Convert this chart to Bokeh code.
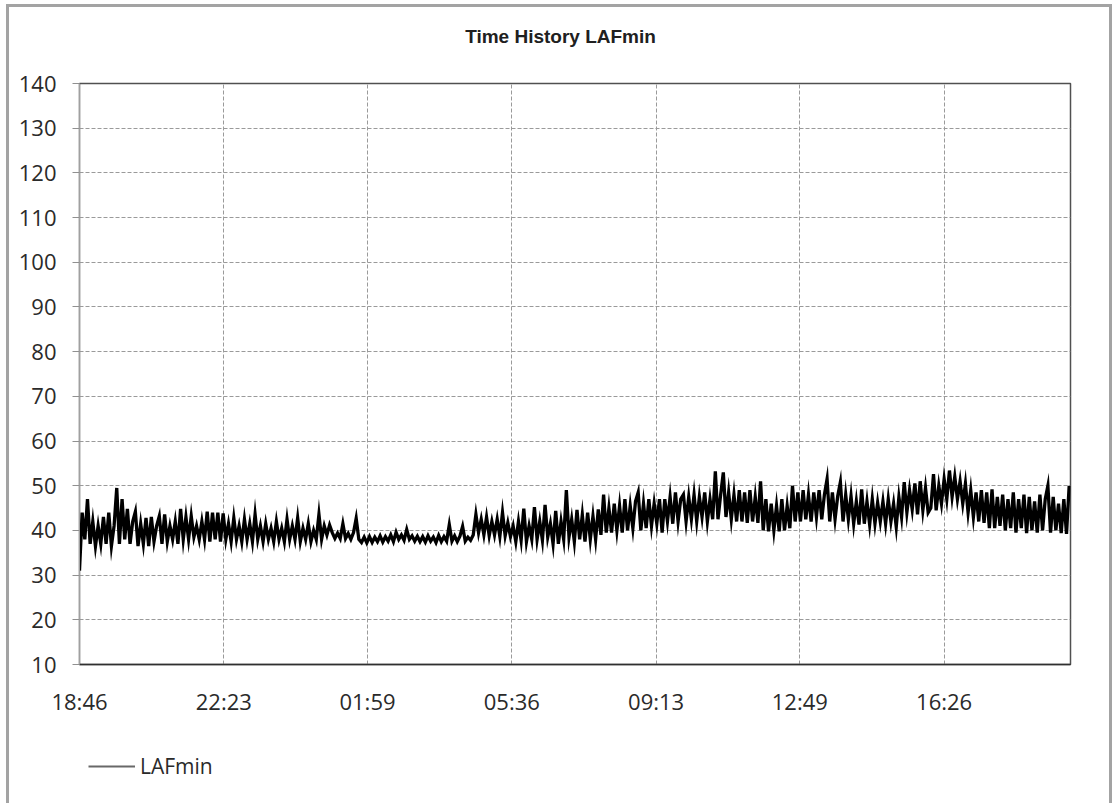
import numpy as np
from bokeh.plotting import figure
from bokeh.layouts import column
from bokeh.models import Range1d, FixedTicker, Label, Legend, LegendItem
from bokeh.embed import file_html
from bokeh.resources import INLINE

# ---------------- data ----------------
title_text = "Time History LAFmin"
series_name = "LAFmin"
sample_minutes = 4          # sampling interval of the values below
x_end_minutes = 1490        # axis span (minutes after 18:46)
tick_minutes = [0, 217, 433, 650, 867, 1083, 1300]
tick_labels = ["18:46", "22:23", "01:59", "05:36", "09:13", "12:49", "16:26"]
y_ticks = [10, 20, 30, 40, 50, 60, 70, 80, 90, 100, 110, 120, 130, 140]

laf_min = [
    31, 44, 38, 47, 37, 42, 36.5, 41, 37, 43,
    37, 44, 36.5, 41, 49.5, 37, 47, 38, 44.8, 37,
    42, 44.2, 36.5, 41.5, 37, 42.8, 36.5, 43, 37.5, 41,
    43.2, 37, 43.6, 37.5, 41, 38, 42, 37, 44.8, 38,
    43, 38, 43.2, 38.5, 41, 38, 42, 38, 44.2, 37.5,
    44, 38, 44, 37.5, 43.8, 38, 41.5, 37.5, 42.8, 38,
    41, 37.5, 42.5, 38, 41.5, 37.5, 43.6, 38, 41, 37.5,
    41.5, 38, 40.5, 37.5, 42, 38, 40.5, 37.5, 42.5, 38,
    41, 38, 42.8, 37.5, 40.5, 38, 41.5, 37.5, 40, 38,
    43.6, 38, 41, 39, 41.2, 39.5, 38.2, 39.4, 38.2, 41.5,
    38.2, 39.3, 38, 39.5, 42.7, 38, 37.3, 38.5, 37.2, 38.6,
    37.3, 38.5, 37.5, 38.8, 37.4, 38.6, 37.6, 39, 37.5, 39.6,
    38, 39, 37.8, 40.2, 38, 38.8, 37.6, 38.7, 37.5, 38.6,
    37.4, 38.8, 37.6, 38.5, 37.3, 38.9, 37.5, 38.6, 37.6, 41.3,
    37.6, 38.8, 37.5, 38.7, 40.9, 37.6, 38.5, 37.8, 39, 43.6,
    39.5, 42.5, 39, 43, 38.8, 42, 39, 42.5, 38.6, 44,
    38.8, 41.7, 38.6, 41, 37.5, 42, 37.8, 44.9, 37.5, 41,
    38, 45.2, 38, 42, 37.8, 45.7, 38.5, 41.5, 37, 44.4,
    37, 42, 38, 49, 38.5, 42.5, 37.5, 44.6, 38, 43.5,
    37.5, 44, 38, 43.2, 38, 44.7, 39, 48, 39.5, 45,
    39.5, 46, 40, 45.5, 39.5, 47, 40, 45.5, 40.5, 46.5,
    48.5, 40, 46, 40.5, 47, 41, 46, 41.5, 47, 39.5,
    47, 42, 47.5, 41.5, 48.5, 42, 47, 48, 42, 47.5,
    42.5, 48, 42, 47.5, 43, 48.5, 42, 47, 42.5, 53.2,
    42.5, 48, 53, 43, 48.5, 42.5, 48, 42, 49, 42,
    48.5, 41.7, 49, 42, 47.5, 41.7, 51, 40, 47, 39.8,
    46, 40, 45.5, 39.8, 47, 40, 45.5, 40.5, 50, 42,
    48.5, 42, 49, 42.5, 48, 42, 48.5, 43, 49, 42.5,
    48, 51.5, 42, 48.5, 42.5, 47.7, 50.8, 42, 48, 42.5,
    47.7, 41.5, 46.5, 41.3, 49.2, 41.5, 46.5, 41.3, 47, 41.5,
    46.2, 42, 46.5, 41.5, 47, 42, 46, 40.8, 47.5, 43,
    50.8, 44, 49, 44.7, 50.5, 43.6, 51, 44.5, 49.5, 44,
    45, 52.6, 44.5, 50, 46, 51.5, 47, 53.4, 47.5, 52,
    47, 51, 46, 50.5, 44, 49, 43, 48.5, 42, 49,
    41.7, 48.5, 40.5, 49.2, 40.5, 47.5, 41, 48, 40, 47,
    40.5, 48.5, 39.5, 47, 40.5, 48, 39.4, 47.5, 40, 46.5,
    39.5, 48, 40, 47, 50, 39.5, 47.5, 40, 46, 39.4,
    47, 39.2, 50,
]
minutes = [i * sample_minutes for i in range(len(laf_min))]

TICK_FONT = "Open Sans"
W = 1100
BORDER_L, BORDER_R = 70, 39
FRAME_W = W - BORDER_L - BORDER_R      # plot frames in the column are aligned

def strip(h, y0=0):
    f = figure(
        width=W, height=h,
        x_range=Range1d(0, FRAME_W), y_range=Range1d(y0, y0 + h),
        x_axis_location=None, y_axis_location=None,
        output_backend="svg", toolbar_location=None,
        min_border=0, min_border_left=BORDER_L, min_border_right=BORDER_R,
        min_border_top=0, min_border_bottom=0,
        background_fill_color="white", border_fill_color="white",
    )
    f.grid.visible = False
    f.outline_line_color = None
    return f

# ---------------- title strip ----------------
TITLE_H = 50
tf = strip(TITLE_H)
tf.add_layout(Label(
    x=481, y=TITLE_H - 29, text=title_text,
    text_font="Liberation Sans", text_font_style="bold",
    text_font_size="19px", text_color="#202020",
    text_align="center", text_baseline="middle",
))

# ---------------- main figure ----------------
p = figure(
    width=W, height=680,
    x_range=Range1d(0, x_end_minutes), y_range=Range1d(10, 140),
    output_backend="svg", toolbar_location=None,
    min_border_left=BORDER_L, min_border_right=BORDER_R,
    min_border_top=26, min_border_bottom=73,
    background_fill_color="white", border_fill_color="white",
)
p.outline_line_color = "#505050"
p.outline_line_width = 1.5

xa = p.xaxis[0]
xa.ticker = FixedTicker(ticks=tick_minutes)
xa.major_label_overrides = {t: l for t, l in zip(tick_minutes, tick_labels)}
xa.major_tick_out = 0
xa.major_tick_in = 0
xa.minor_tick_out = 0
xa.minor_tick_in = 0
xa.axis_line_color = "#303030"
xa.axis_line_width = 1.5
xa.major_label_standoff = 21
xa.major_label_text_font = TICK_FONT
xa.major_label_text_font_size = "22px"
xa.major_label_text_color = "#2a2a2a"

ya = p.yaxis[0]
ya.ticker = FixedTicker(ticks=y_ticks)
ya.major_tick_out = 7
ya.major_tick_in = 0
ya.minor_tick_out = 0
ya.minor_tick_in = 0
ya.major_tick_line_color = "#909090"
ya.axis_line_color = "#a0a0a0"
ya.major_label_standoff = 16
ya.major_label_text_font = TICK_FONT
ya.major_label_text_font_size = "22px"
ya.major_label_text_color = "#2a2a2a"

for g in (p.xgrid[0], p.ygrid[0]):
    g.grid_line_color = "#9a9a9a"
    g.grid_line_dash = "4 2"
    g.grid_line_width = 1

p.line(minutes, laf_min, line_color="black", line_width=3.3, line_join="miter")

# ---------------- legend strip ----------------
LEG_H = 66
lg = strip(LEG_H, y0=-200)
# the series in the key's grey; it lies outside this strip's y-range, so only
# its legend sample is visible
leg_r = lg.line(minutes, laf_min, line_color="#686868", line_width=2)
legend = Legend(
    items=[LegendItem(label=series_name, renderers=[leg_r])],
    location=(9, 23),
    glyph_width=47, glyph_height=20, label_standoff=5,
    label_text_font=TICK_FONT, label_text_font_size="21px",
    label_text_color="#2a2a2a",
    border_line_color=None, background_fill_alpha=0,
    padding=4, margin=0, spacing=0,
)
lg.add_layout(legend)

layout = column(tf, p, lg, spacing=0, styles={
    "margin-left": "6px",
    "margin-top": "4px",
    "border-left": "3px solid #a3a3a3",
    "border-top": "3px solid #a3a3a3",
    "border-right": "3px solid #a3a3a3",
})

open("out.html", "w").write(file_html(layout, INLINE))
